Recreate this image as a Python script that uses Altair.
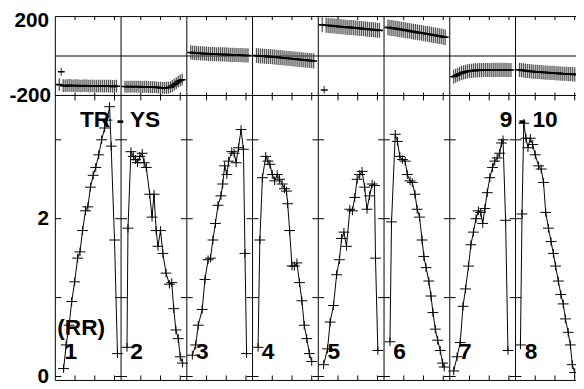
import altair as alt
import pandas as pd

FONT = "Liberation Sans"
PANEL_W = 100 / 3          # channel units per panel (2 px per channel)
X_MAX = 264                # visible part of the channel axis
PHASE_DOMAIN = [-1645, 200]
AMP_DOMAIN = [-0.05, 4.5625]

# ---------------- amplitude (bottom row), per IF panel ----------------
amp_ch_1 = [4.2, 5.5, 7.0, 8.3, 9.8, 11.3, 12.5, 13.8, 15.3, 16.5, 17.8, 19.2, 20.5, 22.0, 23.5, 25.0, 26.2, 27.5, 28.3, 30.0, 31.5]
amp_1 = [0.10, 0.40, 0.65, 0.95, 1.20, 1.50, 1.58, 1.85, 2.10, 2.15, 2.40, 2.55, 2.65, 2.81, 3.00, 3.15, 3.25, 3.42, 2.92, 1.73, 0.29]
amp_ch_2 = [3.0, 3.5, 5.0, 6.2, 7.3, 8.3, 9.5, 10.7, 11.7, 12.8, 14.5, 15.7, 16.7, 17.8, 18.7, 20.0, 21.2, 22.8, 24.5, 25.7, 26.7, 27.8, 29.0, 30.0, 31.2]
amp_2 = [0.37, 1.88, 2.85, 2.79, 2.75, 2.71, 2.79, 2.83, 2.71, 2.65, 2.31, 2.02, 2.31, 1.85, 1.65, 1.85, 1.56, 1.31, 1.17, 1.19, 0.86, 0.59, 0.48, 0.25, 0.17]
amp_ch_3 = [2.8, 4.5, 5.8, 7.8, 9.2, 10.8, 12.0, 13.2, 14.5, 15.8, 17.3, 18.2, 19.2, 20.3, 21.2, 22.8, 24.0, 25.0, 26.2, 27.5, 28.7, 29.5, 30.3]
amp_3 = [0.27, 0.40, 0.65, 0.85, 1.23, 1.48, 1.50, 1.73, 1.94, 2.17, 2.29, 2.44, 2.67, 2.56, 2.73, 2.85, 2.83, 2.71, 2.90, 3.13, 2.88, 1.56, 0.29]
amp_ch_4 = [2.8, 3.7, 5.0, 6.7, 7.8, 8.8, 10.0, 11.2, 12.5, 13.7, 15.0, 16.2, 17.2, 17.8, 18.8, 20.0, 21.2, 22.5, 23.8, 25.0, 26.2, 27.5, 28.8, 30.0]
amp_4 = [0.37, 1.73, 2.52, 2.79, 2.73, 2.69, 2.56, 2.48, 2.56, 2.50, 2.44, 2.38, 2.35, 2.19, 1.85, 1.40, 1.40, 1.44, 1.19, 0.96, 0.65, 0.48, 0.29, 0.19]
amp_ch_5 = [2.7, 4.7, 6.0, 7.7, 9.3, 10.7, 11.8, 13.0, 14.3, 16.0, 17.3, 18.5, 19.7, 21.0, 22.2, 23.5, 24.7, 26.0, 27.3, 28.5, 29.0, 30.2]
amp_5 = [0.15, 0.35, 0.69, 0.90, 1.29, 1.48, 1.75, 1.83, 1.65, 2.12, 2.10, 2.27, 2.50, 2.56, 2.60, 2.40, 2.12, 2.29, 2.44, 2.42, 1.50, 0.33]
amp_ch_6 = [3.0, 3.8, 5.7, 6.8, 8.0, 9.3, 10.7, 11.8, 13.2, 14.3, 15.7, 16.8, 18.0, 19.3, 20.2, 21.3, 22.7, 23.8, 24.8, 26.0, 27.2, 28.5, 29.7, 30.5]
amp_6 = [0.44, 1.96, 3.07, 2.98, 2.79, 2.75, 2.73, 2.56, 2.48, 2.46, 2.31, 2.12, 2.02, 1.73, 1.52, 1.38, 1.21, 1.02, 0.81, 0.60, 0.46, 0.33, 0.17, 0.12]
amp_ch_7 = [2.0, 3.7, 5.3, 6.7, 8.0, 9.5, 10.7, 12.0, 13.3, 14.5, 15.7, 16.7, 17.8, 19.0, 20.3, 21.7, 22.8, 24.0, 25.3, 26.2, 27.0, 28.3, 29.5]
amp_7 = [0.07, 0.25, 0.43, 0.89, 1.11, 1.40, 1.67, 1.83, 2.00, 2.10, 2.08, 1.94, 2.13, 2.33, 2.52, 2.65, 2.73, 2.77, 2.83, 2.96, 3.00, 1.98, 0.33]
amp_ch_8 = [2.5, 3.3, 4.2, 5.3, 6.3, 7.5, 8.7, 10.0, 11.7, 13.0, 14.2, 15.3, 16.7, 18.0, 19.2, 20.3, 21.7, 23.0, 24.2, 25.3, 26.7, 27.8, 28.8, 30.0]
amp_8 = [0.40, 2.06, 3.21, 3.02, 2.90, 3.02, 2.94, 2.81, 2.67, 2.63, 2.46, 2.08, 1.88, 1.71, 1.56, 1.40, 1.21, 1.04, 0.92, 0.73, 0.56, 0.40, 0.15, 0.05]

# ---------------- phase (top row), channels 2..31 ----------------
phase_ch = list(range(2, 32))
phase_1 = [-145, -80, -150, -151, -150, -149, -150, -151, -150, -150, -151, -152, -151, -150, -151,
           -152, -152, -151, -152, -153, -152, -152, -153, -153, -152, -153, -153, -154, -154, -153]
phase_2 = [-155, -156, -155, -156, -155, -156, -156, -155, -156, -157, -156, -156, -157, -157, -158,
           -158, -159, -160, -161, -162, -162, -161, -160, -158, -152, -145, -138, -130, -124, -120]
phase_3 = [18, 17, 16, 15, 14, 13, 13, 12, 12, 11, 11, 10, 10, 9, 9,
           8, 8, 8, 7, 7, 6, 6, 6, 5, 5, 4, 4, 3, 3, 3]
phase_4 = [2, 1, 0, 0, -1, -2, -3, -3, -4, -5, -6, -7, -8, -9, -10,
           -11, -12, -13, -14, -15, -16, -17, -18, -19, -20, -21, -22, -23, -24, -25]
phase_5 = [158, -172, 156, 155, 154, 153, 152, 151, 150, 149, 148, 147, 146, 145, 145,
           144, 143, 142, 141, 140, 139, 138, 137, 136, 135, 134, 133, 132, 131, 130]
phase_6 = [145, 143, 142, 140, 139, 137, 135, 134, 132, 130, 129, 127, 125, 123, 122,
           120, 118, 117, 115, 113, 112, 110, 108, 106, 105, 103, 101, 99, 97, 95]
phase_7 = [-105, -100, -95, -90, -86, -83, -80, -78, -76, -75, -74, -73, -73, -72, -72,
           -71, -71, -71, -71, -70, -70, -70, -70, -70, -70, -70, -70, -70, -71, -71]
phase_8 = [-70, -72, -73, -75, -76, -77, -78, -79, -80, -80, -81, -82, -83, -84, -84,
           -85, -86, -86, -87, -88, -88, -89, -90, -90, -91, -92, -92, -93, -93, -94]
phase_err = [32, 30, 36, 38, 38, 40, 36, 36]
phase_outliers = {(0, 3): 20, (4, 3): 20}   # (panel, channel): error of isolated points

panel_labels = ["1", "2", "3", "4", "5", "6", "7", "8"]
tick_channels = [10, 20, 30]
amp_tick_values = [0, 1, 2, 3]
phase_label_values = [200, -200]
amp_label_values = [0, 2]
corner_texts = ["TR - YS", "9 - 10", "(RR)"]
corner_x = [12.5, 225.3, 1.0]
corner_y = [3.25, 3.25, 0.61]

amp_ch = [amp_ch_1, amp_ch_2, amp_ch_3, amp_ch_4, amp_ch_5, amp_ch_6, amp_ch_7, amp_ch_8]
amp_vals = [amp_1, amp_2, amp_3, amp_4, amp_5, amp_6, amp_7, amp_8]
phase_vals = [phase_1, phase_2, phase_3, phase_4, phase_5, phase_6, phase_7, phase_8]

# ---------------- tables ----------------
amp_rows = []
for p, (chs, vals) in enumerate(zip(amp_ch, amp_vals)):
    for c, a in zip(chs, vals):
        amp_rows.append({"panel": p, "x": p * PANEL_W + c, "amp": a})
amp_df = pd.DataFrame(amp_rows)

ph_rows = []
for p, vals in enumerate(phase_vals):
    for c, v in zip(phase_ch, vals):
        e = phase_outliers.get((p, c), phase_err[p])
        ph_rows.append({"panel": p, "x": p * PANEL_W + c, "phase": v, "lo": v - e, "hi": v + e})
ph_df = pd.DataFrame(ph_rows)

hline_df = pd.DataFrame({"y": [200, 0, -200, PHASE_DOMAIN[0]], "x0": 0, "x1": X_MAX})
vline_df = pd.DataFrame({"x": [p * PANEL_W for p in range(8)],
                         "y0": AMP_DOMAIN[0], "y1": AMP_DOMAIN[1]})

xt_rows = []
for p in range(8):
    for k in tick_channels:
        x = p * PANEL_W + k
        if x <= X_MAX:
            for y0, y1 in [(200, 182), (-185, -225), (PHASE_DOMAIN[0], PHASE_DOMAIN[0] + 25)]:
                xt_rows.append({"x": x, "y0": y0, "y1": y1})
xt_df = pd.DataFrame(xt_rows)

yt_rows = []
for p in range(8):
    for a in amp_tick_values:
        yt_rows.append({"x0": max(0, p * PANEL_W - 3), "x1": p * PANEL_W + 3, "y": a})
yt_df = pd.DataFrame(yt_rows)

lab_df = pd.DataFrame({
    "text": panel_labels + corner_texts,
    "x": [p * PANEL_W + 4.7 for p in range(8)] + corner_x,
    "y": [0.31] * 8 + corner_y,
})

# ---------------- encodings ----------------
def ex(field):
    return alt.X(f"{field}:Q", scale=alt.Scale(domain=[0, X_MAX], nice=False, zero=False), axis=None)

def ey_phase(field, axis=None):
    return alt.Y(f"{field}:Q", scale=alt.Scale(domain=PHASE_DOMAIN, nice=False, zero=False), axis=axis)

def ey_amp(field, axis=None):
    return alt.Y(f"{field}:Q", scale=alt.Scale(domain=AMP_DOMAIN, nice=False, zero=False), axis=axis)

def label_axis(values):
    return alt.Axis(
        values=values, orient="left", grid=False, ticks=False, tickSize=0, domain=False,
        labelPadding={"condition": {"test": "datum.value == -200", "value": 5}, "value": 7},
        labelOffset={"condition": {"test": "datum.value == 200", "value": 4}, "value": 0},
        labelFont=FONT, labelFontSize=21, labelFontWeight="bold",
        labelColor="black", title=None, labelExpr="'' + datum.value")

frame_h = alt.Chart(hline_df).mark_rule(color="black", strokeWidth=1).encode(
    x=ex("x0"), x2="x1:Q", y=ey_phase("y", label_axis(phase_label_values)))

frame_v = alt.Chart(vline_df).mark_rule(color="black", strokeWidth=1).encode(
    x=ex("x"), y=ey_amp("y0"), y2="y1:Q")

xticks = alt.Chart(xt_df).mark_rule(color="black", strokeWidth=1).encode(
    x=ex("x"), y=ey_phase("y0"), y2="y1:Q")

yticks = alt.Chart(yt_df).mark_rule(color="black", strokeWidth=1, clip=True).encode(
    x=ex("x0"), x2="x1:Q", y=ey_amp("y", label_axis(amp_label_values)))

err_bars = alt.Chart(ph_df).mark_rule(color="#555555", strokeWidth=1.3, clip=True).encode(
    x=ex("x"), y=ey_phase("lo"), y2="hi:Q")

ph_pts = alt.Chart(ph_df).mark_point(shape="M-1,0H1", size=49, filled=False, color="black",
                                     strokeWidth=1.6, opacity=1, clip=True).encode(
    x=ex("x"), y=ey_phase("phase"))

amp_line = alt.Chart(amp_df).mark_line(color="black", strokeWidth=1, clip=True).encode(
    x=ex("x"), y=ey_amp("amp"), detail="panel:N")

amp_pts = alt.Chart(amp_df).mark_point(shape="M-1,0H1M0,-0.8V0.8", size=121, filled=False,
                                       color="black", strokeWidth=1, opacity=1, clip=True).encode(
    x=ex("x"), y=ey_amp("amp"))

labels = alt.Chart(lab_df).mark_text(font=FONT, fontSize=23, fontWeight="bold", color="black",
                                     align="left", baseline="middle").encode(
    x=ex("x"), y=ey_amp("y"), text="text:N")

chart = alt.layer(
    frame_h, frame_v, xticks, yticks, err_bars, ph_pts, amp_line, amp_pts, labels
).resolve_scale(y="independent").properties(
    width=528, height=369,
    autosize=alt.AutoSizeParams(type="none"),
    padding={"left": 48, "top": 6, "right": 0, "bottom": 6},
    background="white",
).configure_view(strokeWidth=0)

chart.save("out.html", embed_options={"renderer": "svg", "actions": False})
